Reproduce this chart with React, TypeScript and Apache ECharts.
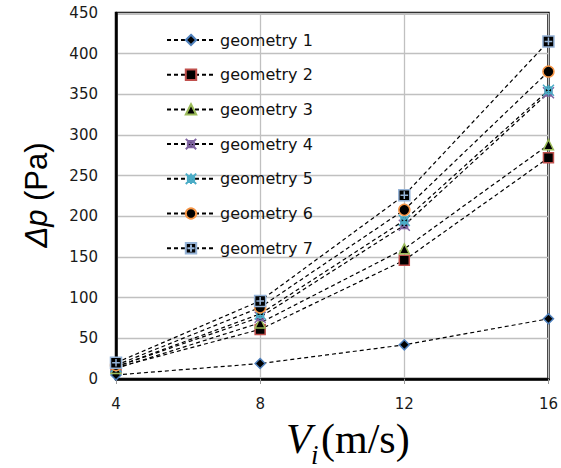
import React, { useEffect, useRef } from "react";
import * as echarts from "echarts";

const xValues = [4, 8, 12, 16];
const seriesNames = ["geometry 1", "geometry 2", "geometry 3", "geometry 4", "geometry 5", "geometry 6", "geometry 7"];
const g1 = [5, 19, 42, 74];
const g2 = [14, 61, 146, 272];
const g3 = [13, 69, 160, 288];
const g4 = [15, 76, 189, 352];
const g5 = [15, 80, 195, 355];
const g6 = [17, 88, 208, 378];
const g7 = [20, 96, 226, 415];
const allValues = [g1, g2, g3, g4, g5, g6, g7];

const symbols = [
  "diamond",
  "rect",
  "triangle",
  "path://M0,0L10,10M10,0L0,10M2,2H8V8H2Z",
  "path://M0,0L10,10M10,0L0,10M5,0V10M2,2H8V8H2Z",
  "circle",
  "path://M0,0H10V10H0ZM5,1.5V8.5M1.5,5H8.5",
];
const borderColors = ["#4f81bd", "#c0504d", "#9bbb59", "#8064a2", "#4bacc6", "#f79646", "#95b3d7"];
const symbolSizes = [10, 10, 10, 11, 11, 11, 11];

const FONT = "DejaVu Sans";

export default function App() {
  const ref = useRef<HTMLDivElement>(null);
  useEffect(() => {
    if (!ref.current) return;
    const chart = echarts.init(ref.current, undefined, { renderer: "svg" });
    const series = allValues.map((vals, i) => ({
      name: seriesNames[i],
      type: "line",
      data: xValues.map((x, j) => [x, vals[j]]),
      symbol: symbols[i],
      symbolSize: symbolSizes[i],
      itemStyle: { color: "#000", borderColor: borderColors[i], borderWidth: 1.5 },
      lineStyle: { color: "#000", width: 1.2, type: [4, 3] },
      z: 2 + i,
    }));
    chart.setOption({
      animation: false,
      backgroundColor: "#fff",
      grid: {
        left: 116,
        right: 10,
        top: 13,
        bottom: 89,
        show: true,
        borderColor: "#000",
        borderWidth: 2.5,
        backgroundColor: "transparent",
      },
      legend: {
        orient: "vertical",
        left: 161,
        top: 25,
        itemWidth: 48,
        itemHeight: 13,
        itemGap: 14.7,
        data: seriesNames,
        textStyle: { fontFamily: FONT, fontSize: 16, color: "#111", lineHeight: 20 },
      },
      xAxis: {
        type: "value",
        min: 4,
        max: 16,
        interval: 4,
        axisLine: { lineStyle: { color: "#000", width: 2.5 } },
        axisTick: { show: true, length: 5, lineStyle: { color: "#999" } },
        splitLine: { show: true, lineStyle: { color: "#c0c0c0", width: 1.3 } },
        axisLabel: { fontFamily: FONT, fontSize: 15, color: "#1a1a1a", margin: 17 },
      },
      yAxis: {
        type: "value",
        min: 0,
        max: 450,
        interval: 50,
        axisLine: { show: true, lineStyle: { color: "#000", width: 2.5 } },
        axisTick: { show: false },
        splitLine: { show: true, lineStyle: { color: "#c0c0c0", width: 1.3 } },
        axisLabel: { fontFamily: FONT, fontSize: 15, color: "#1a1a1a", margin: 18 },
      },
      graphic: [
        {
          type: "text",
          x: 36,
          y: 195,
          rotation: Math.PI / 2,
          style: {
            text: "{i|Δp} (Pa)",
            fontFamily: "Liberation Sans",
            fontSize: 31,
            fill: "#000",
            align: "center",
            verticalAlign: "middle",
            rich: { i: { fontStyle: "italic", fontFamily: "Liberation Sans", fontSize: 31, fill: "#000" } },
          },
        },
        {
          type: "text",
          x: 286,
          y: 460,
          style: {
            text: "V",
            fontFamily: "Liberation Serif",
            fontStyle: "italic",
            fontSize: 42,
            fill: "#000",
            verticalAlign: "bottom",
          },
        },
        {
          type: "text",
          x: 311,
          y: 468,
          style: {
            text: "i",
            fontFamily: "Liberation Serif",
            fontStyle: "italic",
            fontSize: 27,
            fill: "#000",
            verticalAlign: "bottom",
          },
        },
        {
          type: "text",
          x: 321,
          y: 460,
          style: {
            text: "(m/s)",
            fontFamily: "Liberation Serif",
            fontSize: 42,
            fill: "#000",
            verticalAlign: "bottom",
          },
        },
      ],
      series,
    });
    return () => chart.dispose();
  }, []);
  return <div ref={ref} style={{ position: "fixed", left: 0, top: 0, width: 561, height: 468 }} />;
}
